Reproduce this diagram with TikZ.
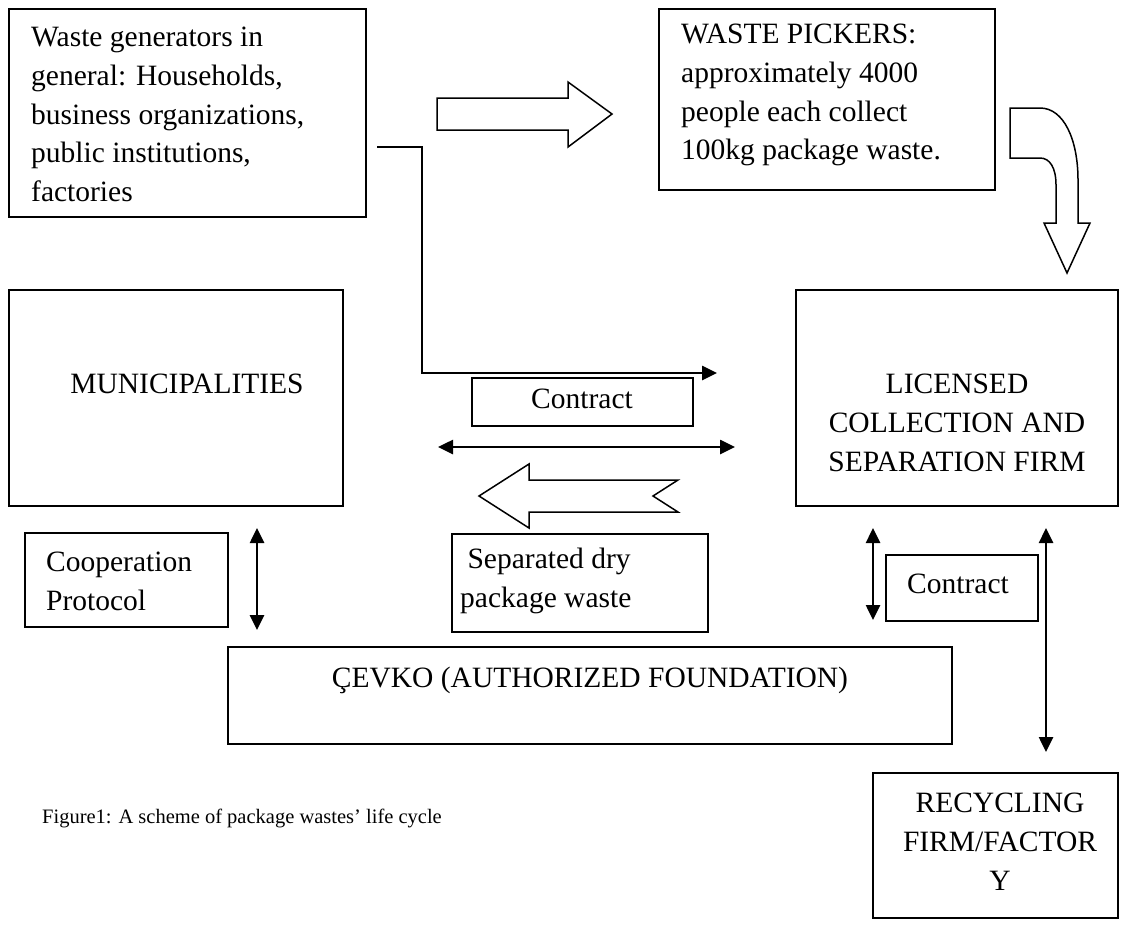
\documentclass[tikz,border=0pt]{standalone}
\usepackage{fontspec}
\setmainfont{Liberation Serif}
\usetikzlibrary{arrows.meta}
\begin{document}
\begin{tikzpicture}[x=1pt,y=-1pt,
  box/.style={draw, line width=1.8pt, inner sep=0pt, outer sep=0pt, anchor=north west},
  txt/.style={inner sep=0pt, font=\fontsize{29.5}{38.7}\selectfont},
  captxt/.style={inner sep=0pt, font=\fontsize{20.5}{24}\selectfont},
  conn/.style={line width=2.6pt, -{Triangle[length=15pt,width=14pt]}},
  conntwo/.style={line width=2.6pt, {Triangle[length=15pt,width=14pt]}-{Triangle[length=15pt,width=14pt]}},
  barrow/.style={draw, line width=1.5pt, fill=white, line join=miter}
]
\useasboundingbox (0,0) rectangle (1123,924);

% boxes
\node[box, minimum width=357pt, minimum height=208pt] (gen) at (9,9) {};
\node[box, minimum width=336pt, minimum height=181pt] (pick) at (659,9) {};
\node[box, minimum width=334pt, minimum height=216pt] (muni) at (9,290) {};
\node[box, minimum width=322pt, minimum height=216pt] (lic) at (796,290) {};
\node[box, minimum width=221pt, minimum height=48pt] (con1) at (472,378) {};
\node[box, minimum width=256pt, minimum height=98pt] (sep) at (452,534) {};
\node[box, minimum width=203pt, minimum height=94pt] (coop) at (25,533) {};
\node[box, minimum width=152pt, minimum height=66pt] (con2) at (886,555) {};
\node[box, minimum width=724pt, minimum height=97pt] (cevko) at (228,647) {};
\node[box, minimum width=245pt, minimum height=145pt] (recyc) at (873,773) {};

% texts
\node[txt, anchor=north west, align=left] (gen-t) at (31,27) {Waste generators in\\general: Households,\\business organizations,\\public institutions,\\factories};
\node[txt, anchor=north west, align=left] (pick-t) at (681,24) {WASTE PICKERS:\\approximately 4000\\people each collect\\100kg package waste.};
\node[txt, anchor=base] (muni-t) at (187,393) {MUNICIPALITIES};
\node[txt, anchor=north, align=center] (lic-t) at (957,374) {LICENSED\\COLLECTION AND\\SEPARATION FIRM};
\node[txt, anchor=base] (con1-t) at (582,408) {Contract};
\node[txt, anchor=north west, align=left] (sep-t) at (460,548) {\ Separated dry\\package waste};
\node[txt, anchor=north west, align=left] (coop-t) at (46,552) {Cooperation\\Protocol};
\node[txt, anchor=base west] (con2-t) at (907,593) {Contract};
\node[txt, anchor=base] (cevko-t) at (590,687) {ÇEVKO (AUTHORIZED FOUNDATION)};
\node[txt, anchor=north, align=center] (recyc-t) at (1000,793) {RECYCLING\\FIRM/FACTOR\\Y};
\node[captxt, anchor=base west] (cap) at (42,823) {Figure1: A scheme of package wastes’ life cycle};

% connectors
\coordinate (g0) at (377,147);
\coordinate (g1) at (422,147);
\coordinate (g2) at (422,373);
\coordinate (g3) at (717,373);
\draw[conn] (g0) -- (g1) -- (g2) -- (g3);

\coordinate (d1) at (438,447);
\coordinate (d2) at (735,447);
\draw[conntwo] (d1) -- (d2);

\coordinate (p1) at (257,528);
\coordinate (p2) at (257,630);
\draw[conntwo] (p1) -- (p2);

\coordinate (q1) at (873,528);
\coordinate (q2) at (873,620);
\draw[conntwo] (q1) -- (q2);

\coordinate (r1) at (1046,528);
\coordinate (r2) at (1046,752);
\draw[conntwo] (r1) -- (r2);

% block arrows
\draw[barrow] (437,98) -- (568,98) -- (568,82) -- (612,114) -- (568,147) -- (568,130) -- (437,130) -- cycle;
\draw[barrow] (479,496) -- (529,464) -- (529,480) -- (678,480) -- (653,496) -- (678,512) -- (529,512) -- (529,528) -- cycle;
\draw[barrow] (1010,108) -- (1040,108) .. controls (1064,108) and (1078,140) .. (1078,180)
  -- (1078,223) -- (1090,223) -- (1067,273) -- (1044,223) -- (1056,223) -- (1056,185)
  .. controls (1056,168) and (1050,158) .. (1040,158) -- (1010,158) -- cycle;
\end{tikzpicture}
\end{document}
